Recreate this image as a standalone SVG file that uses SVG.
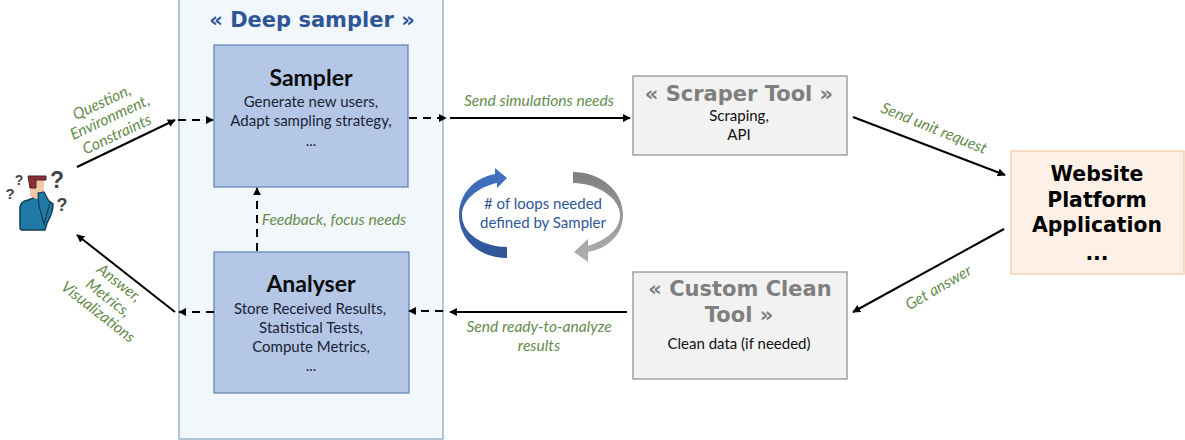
<svg xmlns="http://www.w3.org/2000/svg" width="1185" height="440" viewBox="0 0 1185 440">
<style>
text{font-family:"Lato","Carlito","Open Sans",sans-serif;text-anchor:middle}
.h{font-family:"DejaVu Sans",Verdana,sans-serif;font-weight:700;font-size:21px}
.w{font-size:20.4px}
.t{font-size:23px;font-weight:700;fill:#0d0d0d}
.b{font-size:15px;fill:#1a2233}
.p{font-size:15px;fill:#111}
.l{font-size:15.6px;font-style:italic;fill:#668c4c}
.s{fill:none;stroke:#000;stroke-width:2}
.d{fill:none;stroke:#000;stroke-width:2;stroke-dasharray:8 6}
.inner{fill:#b4c7e7;stroke:#5f7fae;stroke-width:1.2}
.tool{fill:#f2f2f2;stroke:#8c8c8c;stroke-width:1.2}
.q{font-family:"Liberation Sans",sans-serif;font-weight:700;fill:#444}
</style>
<defs>
<marker id="a" viewBox="0 0 10 10" refX="9" refY="5" markerWidth="8" markerHeight="8" markerUnits="userSpaceOnUse" orient="auto"><path d="M0 0L10 5L0 10Z" fill="#000"/></marker>
<linearGradient id="bl" x1="0" y1="0" x2="0" y2="1"><stop offset="0" stop-color="#4472c4"/><stop offset="1" stop-color="#2f5597"/></linearGradient>
<linearGradient id="gr" x1="0" y1="0" x2="0" y2="1"><stop offset="0" stop-color="#7f7f7f"/><stop offset="1" stop-color="#b0b0b0"/></linearGradient>
</defs>
<rect width="1185" height="440" fill="#fff"/>
<g id="deep-sampler">
<rect x="179" y="-2" width="264" height="441" fill="#f2f7fc" stroke="#7fa3c0" stroke-width="1.2"/>
<text class="h" x="312" y="27" fill="#2f5597">« Deep sampler »</text>
</g>
<g id="sampler">
<rect class="inner" x="214" y="45" width="194" height="142"/>
<text class="t" x="311" y="86">Sampler</text>
<text class="b" x="311" y="107">Generate new users,</text>
<text class="b" x="311" y="126">Adapt sampling strategy,</text>
<text class="b" x="311" y="146">...</text>
</g>
<g id="analyser">
<rect class="inner" x="214" y="252" width="195" height="141"/>
<text class="t" x="311" y="292">Analyser</text>
<text class="b" x="310" y="314">Store Received Results,</text>
<text class="b" x="311" y="333">Statistical Tests,</text>
<text class="b" x="311" y="352">Compute Metrics,</text>
<text class="b" x="311" y="371">...</text>
</g>
<g id="scraper-tool">
<rect class="tool" x="633" y="76" width="214" height="79"/>
<text class="h" x="739" y="101" fill="#7f7f7f">« Scraper Tool »</text>
<text class="p" x="739" y="121">Scraping,</text>
<text class="p" x="739" y="140">API</text>
</g>
<g id="custom-clean-tool">
<rect class="tool" x="633" y="272" width="214" height="107"/>
<text class="h" x="740" y="296" fill="#7f7f7f">« Custom Clean</text>
<text class="h" x="739" y="322" fill="#7f7f7f">Tool »</text>
<text class="p" x="739" y="349">Clean data (if needed)</text>
</g>
<g id="website">
<rect x="1011" y="151" width="173" height="123" fill="#fdf1e7" stroke="#f0c9a6" stroke-width="1.2"/>
<text class="h w" x="1097" y="181" fill="#000">Website</text>
<text class="h w" x="1097" y="207" fill="#000">Platform</text>
<text class="h w" x="1097" y="232" fill="#000">Application</text>
<text class="h w" x="1097" y="260" fill="#000">...</text>
</g>
<g id="user">
<path d="M20 207Q21 201 28 200L36 197L46 199L53 204Q53 213 47 223L45 230H22Q20 230 20 227Z" fill="#1f7ba6" stroke="#123f57" stroke-width="1.5"/>
<path d="M30 180H44V196L36 199L30 196Z" fill="#f3c6a5"/>
<path d="M28 176H46V180H36V188H30Z" fill="#8a2f33" stroke="#4a2226" stroke-width="1"/>
<path d="M38 193L44 192L50 203L44 224L39 206Z" fill="#1f7ba6" stroke="#123f57" stroke-width="1.2"/>
<text class="q" x="10" y="199" font-size="15">?</text>
<text class="q" x="19" y="185" font-size="14">?</text>
<text class="q" x="57" y="188" font-size="23">?</text>
<text class="q" x="62" y="211" font-size="18">?</text>
</g>
<g id="connectors">
<path class="s" d="M77 167L175 120" marker-end="url(#a)"/>
<path class="d" d="M178 120H213" marker-end="url(#a)"/>
<path class="d" d="M409 118H446" marker-end="url(#a)"/>
<path class="s" d="M450 118H630" marker-end="url(#a)"/>
<path class="s" d="M853 117L1005 175" marker-end="url(#a)"/>
<path class="s" d="M1004 229L853 312" marker-end="url(#a)"/>
<path class="s" d="M627 312H450" marker-end="url(#a)"/>
<path class="d" d="M443 311H409" marker-end="url(#a)"/>
<path class="d" d="M214 312H179" marker-end="url(#a)"/>
<path class="s" d="M175 312L77 235" marker-end="url(#a)"/>
<path class="d" d="M257 251V188" marker-end="url(#a)"/>
</g>
<g id="loop">
<path d="M507 178L495 168V174C472 178 459 196 459 215C459 240 480 258 507 258V247C485 247 462 235 462 215C462 200 478 187 497 183V188Z" fill="url(#bl)"/>
<path d="M573 172C600 172 623 190 623 215C623 236 606 249 588 252V262L574 252L588 239V246C606 240 620 230 620 215C620 198 597 183 573 183Z" fill="url(#gr)"/>
<text x="543" y="209" font-size="15" fill="#2f5597"># of loops needed</text>
<text x="543" y="228" font-size="15" fill="#2f5597">defined by Sampler</text>
</g>
<g id="labels">
<text class="l" transform="translate(104,107) rotate(-25)">Question,</text>
<text class="l" transform="translate(112,122) rotate(-25)">Environment,</text>
<text class="l" transform="translate(119,139) rotate(-25)">Constraints</text>
<text class="l" transform="translate(116,287) rotate(38)">Answer,</text>
<text class="l" transform="translate(105,302) rotate(38)">Metrics,</text>
<text class="l" transform="translate(95,316) rotate(38)">Visualizations</text>
<text class="l" x="334" y="225">Feedback, focus needs</text>
<text class="l" x="539" y="106">Send simulations needs</text>
<text class="l" transform="translate(932,133) rotate(22)">Send unit request</text>
<text class="l" transform="translate(941,292) rotate(-30)">Get answer</text>
<text class="l" x="539" y="332">Send ready-to-analyze</text>
<text class="l" x="539" y="351">results</text>
</g>
</svg>
